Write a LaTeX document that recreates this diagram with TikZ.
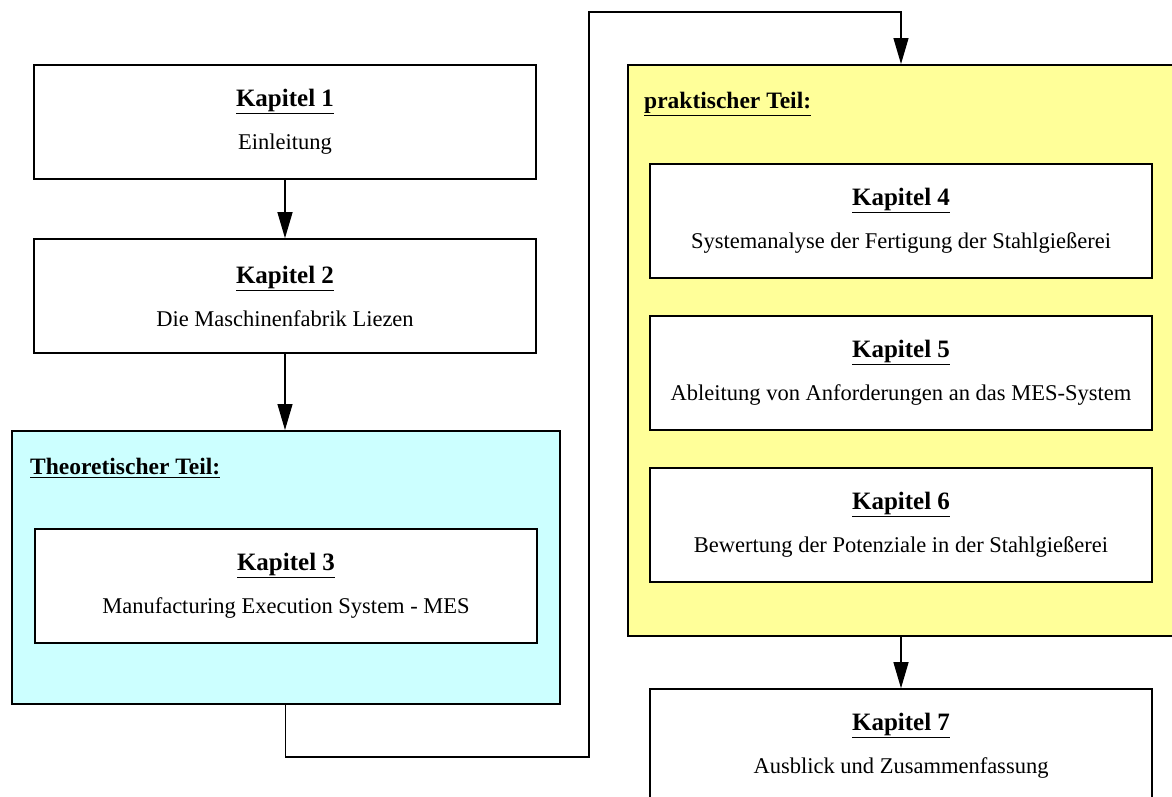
\documentclass[tikz,border=0pt]{standalone}
\usepackage{fontspec}
\setmainfont{Liberation Serif}
\usetikzlibrary{arrows.meta}
\definecolor{theofill}{HTML}{CCFFFF}
\definecolor{prakfill}{HTML}{FFFF99}
\begin{document}
\begin{tikzpicture}[x=1pt,y=-1pt,
 chap/.style={draw=black, line width=1.6pt, fill=white, minimum width=502pt, minimum height=114pt, inner sep=0pt, align=center, font=\fontsize{22.5}{43}\selectfont},
 group/.style={draw=black, line width=1.6pt, inner sep=0pt, anchor=north west},
 glabel/.style={font=\fontsize{23.5}{26}\selectfont\bfseries, anchor=west, inner sep=0pt},
 conn/.style={line width=1.2pt},
 arr/.style={conn, -{Triangle[length=26pt,width=15pt]}},
]
\useasboundingbox (0,0) rectangle (1172,796);
\node (theo) [group, fill=theofill, minimum width=548pt, minimum height=273pt] at (11,430) {};
\node (prak) [group, fill=prakfill, minimum width=560pt, minimum height=571pt] at (627,64) {};
\node (theolab) [glabel] at (30,468) {\underline{Theoretischer Teil:}};
\node (praklab) [glabel] at (644,104) {\underline{praktischer Teil:}};
\newcommand{\kap}[1]{\underline{\textbf{\fontsize{25}{43}\selectfont Kapitel #1}}}
\node (k1) [chap] at (285,122) {\kap{1}\\Einleitung};
\node (k2) [chap] at (285,296) {\kap{2}\\Die Maschinenfabrik Liezen};
\node (k3) [chap] at (286,586) {\kap{3}\\Manufacturing Execution System - MES};
\node (k4) [chap] at (901,221) {\kap{4}\\Systemanalyse der Fertigung der Stahlgießerei};
\node (k5) [chap] at (901,373) {\kap{5}\\Ableitung von Anforderungen an das MES-System};
\node (k6) [chap] at (901,525) {\kap{6}\\Bewertung der Potenziale in der Stahlgießerei};
\node (k7) [chap] at (901,746) {\kap{7}\\Ausblick und Zusammenfassung};
\coordinate (c2) at (589,757);
\coordinate (c3) at (589,12);
\coordinate (c4) at (901,12);
\draw[arr] (k1.south) -- (k2.north);
\draw[arr] (k2.south) -- (k2.south |- theo.north);
\draw[arr] (theo.south) -- (theo.south |- c2) -- (c2) -- (c3) -- (c4) -- (c4 |- prak.north);
\draw[arr] (k4.south |- prak.south) -- (k7.north);
\end{tikzpicture}
\end{document}
